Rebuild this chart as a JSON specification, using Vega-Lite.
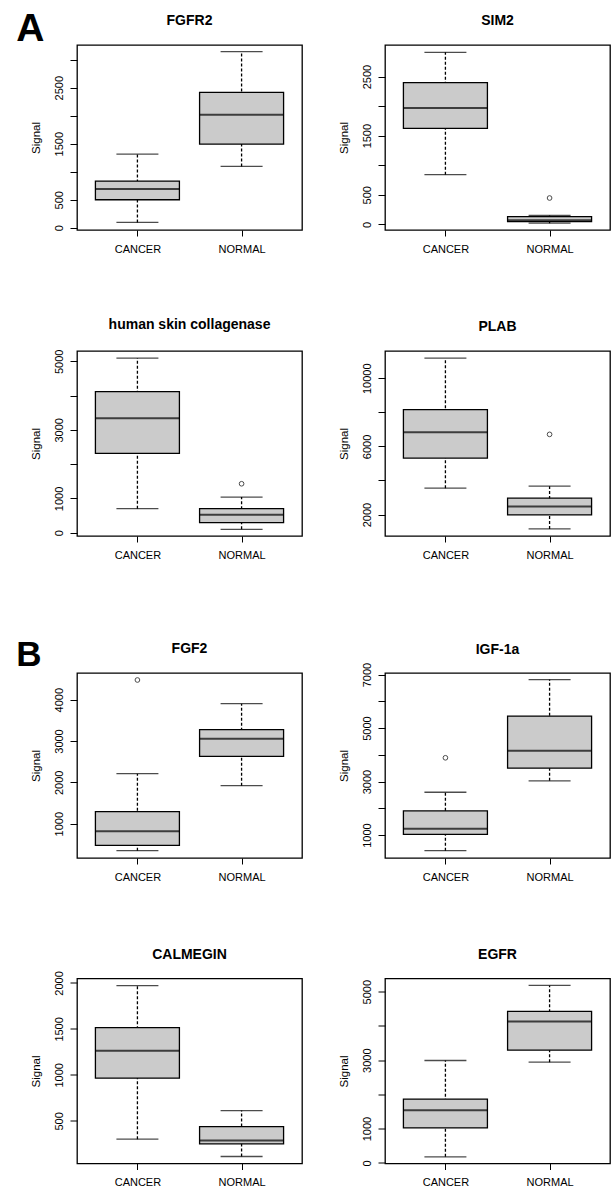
{
  "$schema": "https://vega.github.io/schema/vega-lite/v6.json",
  "background": "white",
  "padding": {"left": 16, "top": 10, "right": 0, "bottom": 0},
  "config": {
    "font": "Liberation Sans",
    "view": {"stroke": "black", "strokeWidth": 1.3, "fill": "white"},
    "axis": {"domain": false, "grid": false, "tickColor": "black", "tickSize": 7, "tickWidth": 1, "labelColor": "black", "labelFont": "Liberation Sans", "labelFontSize": 11, "titleFont": "Liberation Sans", "titleFontSize": 11.5, "titleFontWeight": "normal", "titleColor": "black", "labelOverlap": false},
    "axisX": {"labelAngle": 0, "labelPadding": 7, "tickSize": 6},
    "axisY": {"labelAngle": -90, "labelAlign": "center", "labelBaseline": "bottom", "labelPadding": 6, "titlePadding": 12},
    "title": {"fontSize": 14, "fontWeight": "bold", "baseline": "alphabetic", "offset": 17, "color": "black", "font": "Liberation Sans"}
  },
  "datasets": {
    "boxes": [
      {"gene": "FGFR2", "group": "CANCER", "lo": 95, "q1": 500, "med": 690, "q3": 833, "hi": 1315},
      {"gene": "FGFR2", "group": "NORMAL", "lo": 1095, "q1": 1494, "med": 2018, "q3": 2417, "hi": 3143},
      {"gene": "SIM2", "group": "CANCER", "lo": 840, "q1": 1623, "med": 1967, "q3": 2396, "hi": 2909},
      {"gene": "SIM2", "group": "NORMAL", "lo": 20, "q1": 45, "med": 70, "q3": 130, "hi": 150},
      {"gene": "human skin collagenase", "group": "CANCER", "lo": 699, "q1": 2311, "med": 3340, "q3": 4117, "hi": 5090},
      {"gene": "human skin collagenase", "group": "NORMAL", "lo": 97, "q1": 291, "med": 524, "q3": 699, "hi": 1039},
      {"gene": "PLAB", "group": "CANCER", "lo": 3549, "q1": 5314, "med": 6824, "q3": 8157, "hi": 11176},
      {"gene": "PLAB", "group": "NORMAL", "lo": 1157, "q1": 1980, "med": 2471, "q3": 2961, "hi": 3667},
      {"gene": "FGF2", "group": "CANCER", "lo": 347, "q1": 476, "med": 815, "q3": 1290, "hi": 2210},
      {"gene": "FGF2", "group": "NORMAL", "lo": 1919, "q1": 2629, "med": 3056, "q3": 3274, "hi": 3903},
      {"gene": "IGF-1a", "group": "CANCER", "lo": 413, "q1": 1025, "med": 1238, "q3": 1900, "hi": 2600},
      {"gene": "IGF-1a", "group": "NORMAL", "lo": 3025, "q1": 3500, "med": 4150, "q3": 5450, "hi": 6813},
      {"gene": "CALMEGIN", "group": "CANCER", "lo": 301, "q1": 964, "med": 1261, "q3": 1514, "hi": 1971},
      {"gene": "CALMEGIN", "group": "NORMAL", "lo": 112, "q1": 250, "med": 286, "q3": 438, "hi": 612},
      {"gene": "EGFR", "group": "CANCER", "lo": 175, "q1": 1019, "med": 1534, "q3": 1864, "hi": 2990},
      {"gene": "EGFR", "group": "NORMAL", "lo": 2942, "q1": 3291, "med": 4126, "q3": 4427, "hi": 5184}
    ],
    "outliers": [
      {"gene": "SIM2", "group": "NORMAL", "value": 445},
      {"gene": "human skin collagenase", "group": "NORMAL", "value": 1427},
      {"gene": "PLAB", "group": "NORMAL", "value": 6706},
      {"gene": "FGF2", "group": "CANCER", "value": 4476},
      {"gene": "IGF-1a", "group": "CANCER", "value": 3888}
    ]
  },
  "spacing": 77,
  "vconcat": [
    {
      "title": {"text": "A", "anchor": "start", "fontSize": 39, "fontWeight": "bold", "baseline": "alphabetic", "offset": 0, "dx": -13, "dy": 67},
      "columns": 2,
      "bounds": "flush",
      "spacing": {"row": 121, "column": 83},
      "concat": [
        {
          "width": 225, "height": 185, "title": "FGFR2",
          "data": {"name": "boxes"},
          "transform": [{"filter": "datum.gene === 'FGFR2'"}],
          "encoding": {"x": {"field": "group", "type": "nominal", "scale": {"type": "point", "padding": 0.58}, "axis": {"title": null}}},
          "layer": [
            {"mark": {"type": "rule", "strokeDash": [3, 2], "strokeWidth": 1.3, "color": "black"}, "encoding": {"y": {"field": "lo", "type": "quantitative", "title": "Signal", "scale": {"domain": [-40, 3262], "nice": false, "zero": false}, "axis": {"values": [0, 500, 1000, 1500, 2000, 2500, 3000], "format": "d", "labelExpr": "indexof([0, 500, 1500, 2500], datum.value) >= 0 ? datum.label : ''"}}, "y2": {"field": "hi"}}},
            {"mark": {"type": "bar", "size": 84, "fill": "#cbcbcb", "stroke": "black", "strokeWidth": 1.3}, "encoding": {"y": {"field": "q1", "type": "quantitative", "title": "Signal", "axis": {"values": [0, 500, 1000, 1500, 2000, 2500, 3000], "format": "d", "labelExpr": "indexof([0, 500, 1500, 2500], datum.value) >= 0 ? datum.label : ''"}}, "y2": {"field": "q3"}}},
            {"mark": {"type": "tick", "size": 84, "thickness": 2, "color": "black"}, "encoding": {"y": {"field": "med", "type": "quantitative", "title": "Signal", "axis": {"values": [0, 500, 1000, 1500, 2000, 2500, 3000], "format": "d", "labelExpr": "indexof([0, 500, 1500, 2500], datum.value) >= 0 ? datum.label : ''"}}}},
            {"mark": {"type": "tick", "size": 42, "thickness": 1.3, "color": "black"}, "encoding": {"y": {"field": "lo", "type": "quantitative", "title": "Signal", "axis": {"values": [0, 500, 1000, 1500, 2000, 2500, 3000], "format": "d", "labelExpr": "indexof([0, 500, 1500, 2500], datum.value) >= 0 ? datum.label : ''"}}}},
            {"mark": {"type": "tick", "size": 42, "thickness": 1.3, "color": "black"}, "encoding": {"y": {"field": "hi", "type": "quantitative", "title": "Signal", "axis": {"values": [0, 500, 1000, 1500, 2000, 2500, 3000], "format": "d", "labelExpr": "indexof([0, 500, 1500, 2500], datum.value) >= 0 ? datum.label : ''"}}}}
          ]
        },
        {
          "width": 225, "height": 185, "title": "SIM2",
          "data": {"name": "boxes"},
          "transform": [{"filter": "datum.gene === 'SIM2'"}],
          "encoding": {"x": {"field": "group", "type": "nominal", "scale": {"type": "point", "padding": 0.58}, "axis": {"title": null}}},
          "layer": [
            {"mark": {"type": "rule", "strokeDash": [3, 2], "strokeWidth": 1.3, "color": "black"}, "encoding": {"y": {"field": "lo", "type": "quantitative", "title": "Signal", "scale": {"domain": [-96, 3033], "nice": false, "zero": false}, "axis": {"values": [0, 500, 1000, 1500, 2000, 2500], "format": "d", "labelExpr": "indexof([0, 500, 1500, 2500], datum.value) >= 0 ? datum.label : ''"}}, "y2": {"field": "hi"}}},
            {"mark": {"type": "bar", "size": 84, "fill": "#cbcbcb", "stroke": "black", "strokeWidth": 1.3}, "encoding": {"y": {"field": "q1", "type": "quantitative", "title": "Signal", "axis": {"values": [0, 500, 1000, 1500, 2000, 2500], "format": "d", "labelExpr": "indexof([0, 500, 1500, 2500], datum.value) >= 0 ? datum.label : ''"}}, "y2": {"field": "q3"}}},
            {"mark": {"type": "tick", "size": 84, "thickness": 2, "color": "black"}, "encoding": {"y": {"field": "med", "type": "quantitative", "title": "Signal", "axis": {"values": [0, 500, 1000, 1500, 2000, 2500], "format": "d", "labelExpr": "indexof([0, 500, 1500, 2500], datum.value) >= 0 ? datum.label : ''"}}}},
            {"mark": {"type": "tick", "size": 42, "thickness": 1.3, "color": "black"}, "encoding": {"y": {"field": "lo", "type": "quantitative", "title": "Signal", "axis": {"values": [0, 500, 1000, 1500, 2000, 2500], "format": "d", "labelExpr": "indexof([0, 500, 1500, 2500], datum.value) >= 0 ? datum.label : ''"}}}},
            {"mark": {"type": "tick", "size": 42, "thickness": 1.3, "color": "black"}, "encoding": {"y": {"field": "hi", "type": "quantitative", "title": "Signal", "axis": {"values": [0, 500, 1000, 1500, 2000, 2500], "format": "d", "labelExpr": "indexof([0, 500, 1500, 2500], datum.value) >= 0 ? datum.label : ''"}}}},
            {"data": {"name": "outliers"}, "transform": [{"filter": "datum.gene === 'SIM2'"}], "mark": {"type": "point", "shape": "circle", "filled": false, "size": 22, "stroke": "black", "strokeWidth": 1}, "encoding": {"y": {"field": "value", "type": "quantitative", "title": "Signal", "axis": {"values": [0, 500, 1000, 1500, 2000, 2500], "format": "d", "labelExpr": "indexof([0, 500, 1500, 2500], datum.value) >= 0 ? datum.label : ''"}}}}
          ]
        },
        {
          "width": 225, "height": 185, "title": "human skin collagenase",
          "data": {"name": "boxes"},
          "transform": [{"filter": "datum.gene === 'human skin collagenase'"}],
          "encoding": {"x": {"field": "group", "type": "nominal", "scale": {"type": "point", "padding": 0.58}, "axis": {"title": null}}},
          "layer": [
            {"mark": {"type": "rule", "strokeDash": [3, 2], "strokeWidth": 1.3, "color": "black"}, "encoding": {"y": {"field": "lo", "type": "quantitative", "title": "Signal", "scale": {"domain": [-97, 5300], "nice": false, "zero": false}, "axis": {"values": [0, 1000, 2000, 3000, 4000, 5000], "format": "d", "labelExpr": "indexof([0, 1000, 3000, 5000], datum.value) >= 0 ? datum.label : ''"}}, "y2": {"field": "hi"}}},
            {"mark": {"type": "bar", "size": 84, "fill": "#cbcbcb", "stroke": "black", "strokeWidth": 1.3}, "encoding": {"y": {"field": "q1", "type": "quantitative", "title": "Signal", "axis": {"values": [0, 1000, 2000, 3000, 4000, 5000], "format": "d", "labelExpr": "indexof([0, 1000, 3000, 5000], datum.value) >= 0 ? datum.label : ''"}}, "y2": {"field": "q3"}}},
            {"mark": {"type": "tick", "size": 84, "thickness": 2, "color": "black"}, "encoding": {"y": {"field": "med", "type": "quantitative", "title": "Signal", "axis": {"values": [0, 1000, 2000, 3000, 4000, 5000], "format": "d", "labelExpr": "indexof([0, 1000, 3000, 5000], datum.value) >= 0 ? datum.label : ''"}}}},
            {"mark": {"type": "tick", "size": 42, "thickness": 1.3, "color": "black"}, "encoding": {"y": {"field": "lo", "type": "quantitative", "title": "Signal", "axis": {"values": [0, 1000, 2000, 3000, 4000, 5000], "format": "d", "labelExpr": "indexof([0, 1000, 3000, 5000], datum.value) >= 0 ? datum.label : ''"}}}},
            {"mark": {"type": "tick", "size": 42, "thickness": 1.3, "color": "black"}, "encoding": {"y": {"field": "hi", "type": "quantitative", "title": "Signal", "axis": {"values": [0, 1000, 2000, 3000, 4000, 5000], "format": "d", "labelExpr": "indexof([0, 1000, 3000, 5000], datum.value) >= 0 ? datum.label : ''"}}}},
            {"data": {"name": "outliers"}, "transform": [{"filter": "datum.gene === 'human skin collagenase'"}], "mark": {"type": "point", "shape": "circle", "filled": false, "size": 22, "stroke": "black", "strokeWidth": 1}, "encoding": {"y": {"field": "value", "type": "quantitative", "title": "Signal", "axis": {"values": [0, 1000, 2000, 3000, 4000, 5000], "format": "d", "labelExpr": "indexof([0, 1000, 3000, 5000], datum.value) >= 0 ? datum.label : ''"}}}}
          ]
        },
        {
          "width": 225, "height": 185, "title": "PLAB",
          "data": {"name": "boxes"},
          "transform": [{"filter": "datum.gene === 'PLAB'"}],
          "encoding": {"x": {"field": "group", "type": "nominal", "scale": {"type": "point", "padding": 0.58}, "axis": {"title": null}}},
          "layer": [
            {"mark": {"type": "rule", "strokeDash": [3, 2], "strokeWidth": 1.3, "color": "black"}, "encoding": {"y": {"field": "lo", "type": "quantitative", "title": "Signal", "scale": {"domain": [740, 11600], "nice": false, "zero": false}, "axis": {"values": [2000, 4000, 6000, 8000, 10000], "format": "d", "labelExpr": "indexof([2000, 6000, 10000], datum.value) >= 0 ? datum.label : ''"}}, "y2": {"field": "hi"}}},
            {"mark": {"type": "bar", "size": 84, "fill": "#cbcbcb", "stroke": "black", "strokeWidth": 1.3}, "encoding": {"y": {"field": "q1", "type": "quantitative", "title": "Signal", "axis": {"values": [2000, 4000, 6000, 8000, 10000], "format": "d", "labelExpr": "indexof([2000, 6000, 10000], datum.value) >= 0 ? datum.label : ''"}}, "y2": {"field": "q3"}}},
            {"mark": {"type": "tick", "size": 84, "thickness": 2, "color": "black"}, "encoding": {"y": {"field": "med", "type": "quantitative", "title": "Signal", "axis": {"values": [2000, 4000, 6000, 8000, 10000], "format": "d", "labelExpr": "indexof([2000, 6000, 10000], datum.value) >= 0 ? datum.label : ''"}}}},
            {"mark": {"type": "tick", "size": 42, "thickness": 1.3, "color": "black"}, "encoding": {"y": {"field": "lo", "type": "quantitative", "title": "Signal", "axis": {"values": [2000, 4000, 6000, 8000, 10000], "format": "d", "labelExpr": "indexof([2000, 6000, 10000], datum.value) >= 0 ? datum.label : ''"}}}},
            {"mark": {"type": "tick", "size": 42, "thickness": 1.3, "color": "black"}, "encoding": {"y": {"field": "hi", "type": "quantitative", "title": "Signal", "axis": {"values": [2000, 4000, 6000, 8000, 10000], "format": "d", "labelExpr": "indexof([2000, 6000, 10000], datum.value) >= 0 ? datum.label : ''"}}}},
            {"data": {"name": "outliers"}, "transform": [{"filter": "datum.gene === 'PLAB'"}], "mark": {"type": "point", "shape": "circle", "filled": false, "size": 22, "stroke": "black", "strokeWidth": 1}, "encoding": {"y": {"field": "value", "type": "quantitative", "title": "Signal", "axis": {"values": [2000, 4000, 6000, 8000, 10000], "format": "d", "labelExpr": "indexof([2000, 6000, 10000], datum.value) >= 0 ? datum.label : ''"}}}}
          ]
        }
      ]
    },
    {
      "title": {"text": "B", "anchor": "start", "fontSize": 35, "fontWeight": "bold", "baseline": "alphabetic", "offset": 0, "dx": -13, "dy": 60},
      "columns": 2,
      "bounds": "flush",
      "spacing": {"row": 120.5, "column": 83},
      "concat": [
        {
          "width": 225, "height": 185, "title": "FGF2",
          "data": {"name": "boxes"},
          "transform": [{"filter": "datum.gene === 'FGF2'"}],
          "encoding": {"x": {"field": "group", "type": "nominal", "scale": {"type": "point", "padding": 0.58}, "axis": {"title": null}}},
          "layer": [
            {"mark": {"type": "rule", "strokeDash": [3, 2], "strokeWidth": 1.3, "color": "black"}, "encoding": {"y": {"field": "lo", "type": "quantitative", "title": "Signal", "scale": {"domain": [170, 4645], "nice": false, "zero": false}, "axis": {"values": [1000, 2000, 3000, 4000], "format": "d"}}, "y2": {"field": "hi"}}},
            {"mark": {"type": "bar", "size": 84, "fill": "#cbcbcb", "stroke": "black", "strokeWidth": 1.3}, "encoding": {"y": {"field": "q1", "type": "quantitative", "title": "Signal", "axis": {"values": [1000, 2000, 3000, 4000], "format": "d"}}, "y2": {"field": "q3"}}},
            {"mark": {"type": "tick", "size": 84, "thickness": 2, "color": "black"}, "encoding": {"y": {"field": "med", "type": "quantitative", "title": "Signal", "axis": {"values": [1000, 2000, 3000, 4000], "format": "d"}}}},
            {"mark": {"type": "tick", "size": 42, "thickness": 1.3, "color": "black"}, "encoding": {"y": {"field": "lo", "type": "quantitative", "title": "Signal", "axis": {"values": [1000, 2000, 3000, 4000], "format": "d"}}}},
            {"mark": {"type": "tick", "size": 42, "thickness": 1.3, "color": "black"}, "encoding": {"y": {"field": "hi", "type": "quantitative", "title": "Signal", "axis": {"values": [1000, 2000, 3000, 4000], "format": "d"}}}},
            {"data": {"name": "outliers"}, "transform": [{"filter": "datum.gene === 'FGF2'"}], "mark": {"type": "point", "shape": "circle", "filled": false, "size": 22, "stroke": "black", "strokeWidth": 1}, "encoding": {"y": {"field": "value", "type": "quantitative", "title": "Signal", "axis": {"values": [1000, 2000, 3000, 4000], "format": "d"}}}}
          ]
        },
        {
          "width": 225, "height": 185, "title": {"text": "IGF-1a", "offset": 5},
          "data": {"name": "boxes"},
          "transform": [{"filter": "datum.gene === 'IGF-1a'"}],
          "encoding": {"x": {"field": "group", "type": "nominal", "scale": {"type": "point", "padding": 0.58}, "axis": {"title": null}}},
          "layer": [
            {"mark": {"type": "rule", "strokeDash": [3, 2], "strokeWidth": 1.3, "color": "black"}, "encoding": {"y": {"field": "lo", "type": "quantitative", "title": "Signal", "scale": {"domain": [140, 7060], "nice": false, "zero": false}, "axis": {"values": [1000, 2000, 3000, 4000, 5000, 6000, 7000], "format": "d", "labelExpr": "indexof([1000, 3000, 5000, 7000], datum.value) >= 0 ? datum.label : ''"}}, "y2": {"field": "hi"}}},
            {"mark": {"type": "bar", "size": 84, "fill": "#cbcbcb", "stroke": "black", "strokeWidth": 1.3}, "encoding": {"y": {"field": "q1", "type": "quantitative", "title": "Signal", "axis": {"values": [1000, 2000, 3000, 4000, 5000, 6000, 7000], "format": "d", "labelExpr": "indexof([1000, 3000, 5000, 7000], datum.value) >= 0 ? datum.label : ''"}}, "y2": {"field": "q3"}}},
            {"mark": {"type": "tick", "size": 84, "thickness": 2, "color": "black"}, "encoding": {"y": {"field": "med", "type": "quantitative", "title": "Signal", "axis": {"values": [1000, 2000, 3000, 4000, 5000, 6000, 7000], "format": "d", "labelExpr": "indexof([1000, 3000, 5000, 7000], datum.value) >= 0 ? datum.label : ''"}}}},
            {"mark": {"type": "tick", "size": 42, "thickness": 1.3, "color": "black"}, "encoding": {"y": {"field": "lo", "type": "quantitative", "title": "Signal", "axis": {"values": [1000, 2000, 3000, 4000, 5000, 6000, 7000], "format": "d", "labelExpr": "indexof([1000, 3000, 5000, 7000], datum.value) >= 0 ? datum.label : ''"}}}},
            {"mark": {"type": "tick", "size": 42, "thickness": 1.3, "color": "black"}, "encoding": {"y": {"field": "hi", "type": "quantitative", "title": "Signal", "axis": {"values": [1000, 2000, 3000, 4000, 5000, 6000, 7000], "format": "d", "labelExpr": "indexof([1000, 3000, 5000, 7000], datum.value) >= 0 ? datum.label : ''"}}}},
            {"data": {"name": "outliers"}, "transform": [{"filter": "datum.gene === 'IGF-1a'"}], "mark": {"type": "point", "shape": "circle", "filled": false, "size": 22, "stroke": "black", "strokeWidth": 1}, "encoding": {"y": {"field": "value", "type": "quantitative", "title": "Signal", "axis": {"values": [1000, 2000, 3000, 4000, 5000, 6000, 7000], "format": "d", "labelExpr": "indexof([1000, 3000, 5000, 7000], datum.value) >= 0 ? datum.label : ''"}}}}
          ]
        },
        {
          "width": 225, "height": 185, "title": {"text": "CALMEGIN", "offset": 9},
          "data": {"name": "boxes"},
          "transform": [{"filter": "datum.gene === 'CALMEGIN'"}],
          "encoding": {"x": {"field": "group", "type": "nominal", "scale": {"type": "point", "padding": 0.58}, "axis": {"title": null}}},
          "layer": [
            {"mark": {"type": "rule", "strokeDash": [3, 2], "strokeWidth": 1.3, "color": "black"}, "encoding": {"y": {"field": "lo", "type": "quantitative", "title": "Signal", "scale": {"domain": [36, 2048], "nice": false, "zero": false}, "axis": {"values": [500, 1000, 1500, 2000], "format": "d"}}, "y2": {"field": "hi"}}},
            {"mark": {"type": "bar", "size": 84, "fill": "#cbcbcb", "stroke": "black", "strokeWidth": 1.3}, "encoding": {"y": {"field": "q1", "type": "quantitative", "title": "Signal", "axis": {"values": [500, 1000, 1500, 2000], "format": "d"}}, "y2": {"field": "q3"}}},
            {"mark": {"type": "tick", "size": 84, "thickness": 2, "color": "black"}, "encoding": {"y": {"field": "med", "type": "quantitative", "title": "Signal", "axis": {"values": [500, 1000, 1500, 2000], "format": "d"}}}},
            {"mark": {"type": "tick", "size": 42, "thickness": 1.3, "color": "black"}, "encoding": {"y": {"field": "lo", "type": "quantitative", "title": "Signal", "axis": {"values": [500, 1000, 1500, 2000], "format": "d"}}}},
            {"mark": {"type": "tick", "size": 42, "thickness": 1.3, "color": "black"}, "encoding": {"y": {"field": "hi", "type": "quantitative", "title": "Signal", "axis": {"values": [500, 1000, 1500, 2000], "format": "d"}}}}
          ]
        },
        {
          "width": 225, "height": 185, "title": "EGFR",
          "data": {"name": "boxes"},
          "transform": [{"filter": "datum.gene === 'EGFR'"}],
          "encoding": {"x": {"field": "group", "type": "nominal", "scale": {"type": "point", "padding": 0.58}, "axis": {"title": null}}},
          "layer": [
            {"mark": {"type": "rule", "strokeDash": [3, 2], "strokeWidth": 1.3, "color": "black"}, "encoding": {"y": {"field": "lo", "type": "quantitative", "title": "Signal", "scale": {"domain": [-20, 5386], "nice": false, "zero": false}, "axis": {"values": [0, 1000, 2000, 3000, 4000, 5000], "format": "d", "labelExpr": "indexof([0, 1000, 3000, 5000], datum.value) >= 0 ? datum.label : ''"}}, "y2": {"field": "hi"}}},
            {"mark": {"type": "bar", "size": 84, "fill": "#cbcbcb", "stroke": "black", "strokeWidth": 1.3}, "encoding": {"y": {"field": "q1", "type": "quantitative", "title": "Signal", "axis": {"values": [0, 1000, 2000, 3000, 4000, 5000], "format": "d", "labelExpr": "indexof([0, 1000, 3000, 5000], datum.value) >= 0 ? datum.label : ''"}}, "y2": {"field": "q3"}}},
            {"mark": {"type": "tick", "size": 84, "thickness": 2, "color": "black"}, "encoding": {"y": {"field": "med", "type": "quantitative", "title": "Signal", "axis": {"values": [0, 1000, 2000, 3000, 4000, 5000], "format": "d", "labelExpr": "indexof([0, 1000, 3000, 5000], datum.value) >= 0 ? datum.label : ''"}}}},
            {"mark": {"type": "tick", "size": 42, "thickness": 1.3, "color": "black"}, "encoding": {"y": {"field": "lo", "type": "quantitative", "title": "Signal", "axis": {"values": [0, 1000, 2000, 3000, 4000, 5000], "format": "d", "labelExpr": "indexof([0, 1000, 3000, 5000], datum.value) >= 0 ? datum.label : ''"}}}},
            {"mark": {"type": "tick", "size": 42, "thickness": 1.3, "color": "black"}, "encoding": {"y": {"field": "hi", "type": "quantitative", "title": "Signal", "axis": {"values": [0, 1000, 2000, 3000, 4000, 5000], "format": "d", "labelExpr": "indexof([0, 1000, 3000, 5000], datum.value) >= 0 ? datum.label : ''"}}}}
          ]
        }
      ]
    }
  ]
}
